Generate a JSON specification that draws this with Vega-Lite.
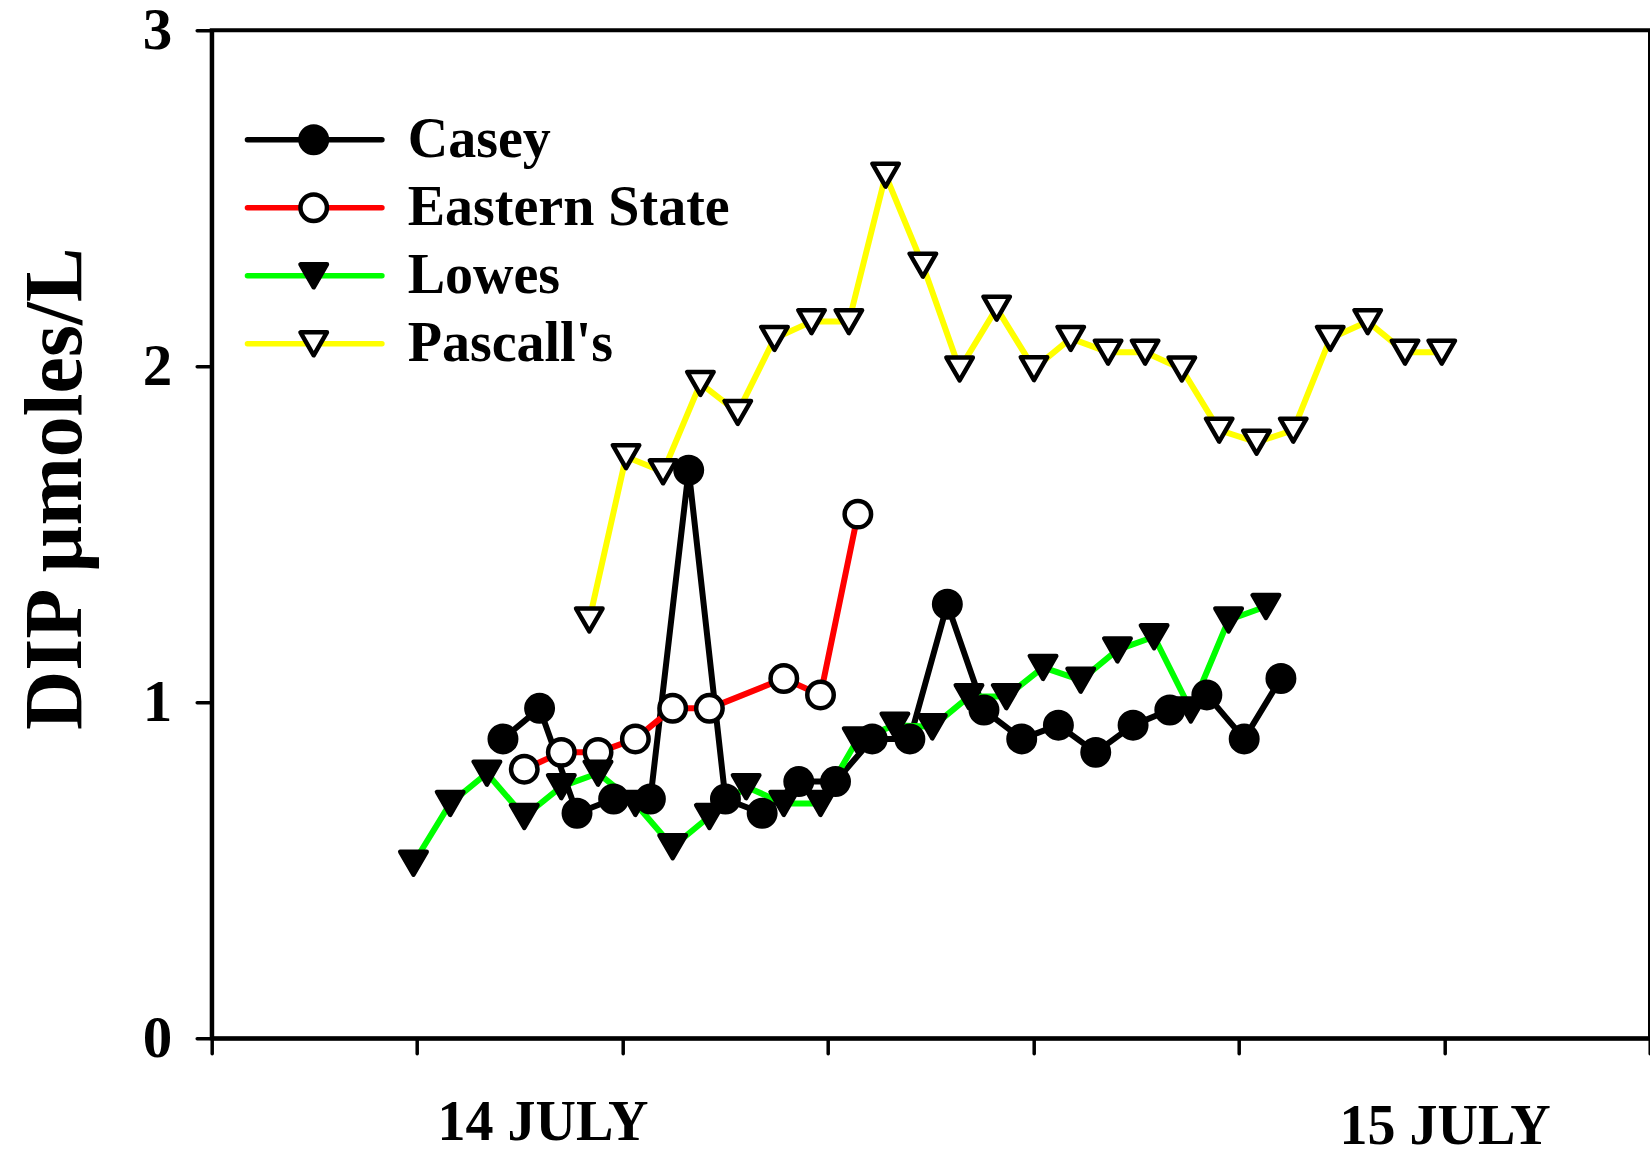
{
  "$schema": "https://vega.github.io/schema/vega-lite/v6.json",
  "width": 1438.3,
  "height": 1008,
  "autosize": {"type": "none"},
  "padding": {"left": 211.7, "top": 30.3, "right": 0, "bottom": 114.7},
  "background": "white",
  "config": {
    "view": {"stroke": "black", "strokeWidth": 4},
    "font": "Liberation Serif"
  },
  "data": {
    "values": [
      {"site": "Casey", "hours": 5.670, "dip": 0.891},
      {"site": "Casey", "hours": 6.383, "dip": 0.982},
      {"site": "Casey", "hours": 7.112, "dip": 0.670},
      {"site": "Casey", "hours": 7.825, "dip": 0.712},
      {"site": "Casey", "hours": 8.540, "dip": 0.712},
      {"site": "Casey", "hours": 9.286, "dip": 1.691},
      {"site": "Casey", "hours": 10.001, "dip": 0.712},
      {"site": "Casey", "hours": 10.716, "dip": 0.670},
      {"site": "Casey", "hours": 11.429, "dip": 0.764},
      {"site": "Casey", "hours": 12.144, "dip": 0.764},
      {"site": "Casey", "hours": 12.859, "dip": 0.891},
      {"site": "Casey", "hours": 13.592, "dip": 0.891},
      {"site": "Casey", "hours": 14.321, "dip": 1.292},
      {"site": "Casey", "hours": 15.034, "dip": 0.977},
      {"site": "Casey", "hours": 15.769, "dip": 0.891},
      {"site": "Casey", "hours": 16.483, "dip": 0.932},
      {"site": "Casey", "hours": 17.210, "dip": 0.851},
      {"site": "Casey", "hours": 17.937, "dip": 0.932},
      {"site": "Casey", "hours": 18.652, "dip": 0.977},
      {"site": "Casey", "hours": 19.373, "dip": 1.022},
      {"site": "Casey", "hours": 20.100, "dip": 0.891},
      {"site": "Casey", "hours": 20.815, "dip": 1.071},
      {"site": "Eastern State", "hours": 6.085, "dip": 0.801},
      {"site": "Eastern State", "hours": 6.806, "dip": 0.851},
      {"site": "Eastern State", "hours": 7.521, "dip": 0.851},
      {"site": "Eastern State", "hours": 8.248, "dip": 0.891},
      {"site": "Eastern State", "hours": 8.974, "dip": 0.982},
      {"site": "Eastern State", "hours": 9.689, "dip": 0.982},
      {"site": "Eastern State", "hours": 11.137, "dip": 1.071},
      {"site": "Eastern State", "hours": 11.852, "dip": 1.022},
      {"site": "Eastern State", "hours": 12.579, "dip": 1.560},
      {"site": "Lowes", "hours": 3.928, "dip": 0.521},
      {"site": "Lowes", "hours": 4.643, "dip": 0.699},
      {"site": "Lowes", "hours": 5.358, "dip": 0.789},
      {"site": "Lowes", "hours": 6.085, "dip": 0.660},
      {"site": "Lowes", "hours": 6.806, "dip": 0.749},
      {"site": "Lowes", "hours": 7.521, "dip": 0.789},
      {"site": "Lowes", "hours": 8.248, "dip": 0.699},
      {"site": "Lowes", "hours": 8.974, "dip": 0.570},
      {"site": "Lowes", "hours": 9.689, "dip": 0.660},
      {"site": "Lowes", "hours": 10.404, "dip": 0.749},
      {"site": "Lowes", "hours": 11.137, "dip": 0.699},
      {"site": "Lowes", "hours": 11.852, "dip": 0.699},
      {"site": "Lowes", "hours": 12.567, "dip": 0.888},
      {"site": "Lowes", "hours": 13.300, "dip": 0.932},
      {"site": "Lowes", "hours": 14.028, "dip": 0.927},
      {"site": "Lowes", "hours": 14.742, "dip": 1.017},
      {"site": "Lowes", "hours": 15.470, "dip": 1.017},
      {"site": "Lowes", "hours": 16.184, "dip": 1.104},
      {"site": "Lowes", "hours": 16.918, "dip": 1.066},
      {"site": "Lowes", "hours": 17.633, "dip": 1.156},
      {"site": "Lowes", "hours": 18.346, "dip": 1.195},
      {"site": "Lowes", "hours": 19.061, "dip": 0.977},
      {"site": "Lowes", "hours": 19.796, "dip": 1.245},
      {"site": "Lowes", "hours": 20.523, "dip": 1.285},
      {"site": "Pascall's", "hours": 7.351, "dip": 1.245},
      {"site": "Pascall's", "hours": 8.066, "dip": 1.731},
      {"site": "Pascall's", "hours": 8.787, "dip": 1.686},
      {"site": "Pascall's", "hours": 9.514, "dip": 1.949},
      {"site": "Pascall's", "hours": 10.241, "dip": 1.863},
      {"site": "Pascall's", "hours": 10.956, "dip": 2.083},
      {"site": "Pascall's", "hours": 11.677, "dip": 2.133},
      {"site": "Pascall's", "hours": 12.404, "dip": 2.133},
      {"site": "Pascall's", "hours": 13.119, "dip": 2.569},
      {"site": "Pascall's", "hours": 13.845, "dip": 2.301},
      {"site": "Pascall's", "hours": 14.560, "dip": 1.992},
      {"site": "Pascall's", "hours": 15.281, "dip": 2.173},
      {"site": "Pascall's", "hours": 16.008, "dip": 1.993},
      {"site": "Pascall's", "hours": 16.723, "dip": 2.083},
      {"site": "Pascall's", "hours": 17.450, "dip": 2.042},
      {"site": "Pascall's", "hours": 18.171, "dip": 2.042},
      {"site": "Pascall's", "hours": 18.886, "dip": 1.992},
      {"site": "Pascall's", "hours": 19.613, "dip": 1.810},
      {"site": "Pascall's", "hours": 20.341, "dip": 1.774},
      {"site": "Pascall's", "hours": 21.055, "dip": 1.810},
      {"site": "Pascall's", "hours": 21.775, "dip": 2.083},
      {"site": "Pascall's", "hours": 22.504, "dip": 2.133},
      {"site": "Pascall's", "hours": 23.231, "dip": 2.042},
      {"site": "Pascall's", "hours": 23.946, "dip": 2.042}
    ]
  },
  "encoding": {
    "x": {
      "field": "hours",
      "type": "quantitative",
      "scale": {"domain": [0, 28], "nice": false, "zero": false},
      "axis": {
        "values": [0, 4, 6.44, 8, 12, 16, 20, 24, 28],
        "title": null,
        "grid": false,
        "labelExpr": "datum.value > 6 && datum.value < 7 ? '14 JULY' : (datum.value == 24 ? '15 JULY' : '')",
        "labelFont": "Liberation Serif",
        "labelFontWeight": "bold",
        "labelFontSize": 56,
        "labelColor": "black",
        "labelFlush": false,
        "labelOverlap": false,
        "labelBound": false,
        "labelLimit": 0,
        "labelPadding": {"condition": {"test": "datum.value == 24", "value": 46}, "value": 42},
        "tickOpacity": {"condition": {"test": "datum.value > 6 && datum.value < 7", "value": 0}, "value": 1},
        "tickSize": 15,
        "tickWidth": 3.5,
        "tickColor": "black",
        "tickCap": "round",
        "domainColor": "black",
        "domainWidth": 4
      }
    },
    "y": {
      "field": "dip",
      "type": "quantitative",
      "scale": {"domain": [0, 3], "nice": false},
      "axis": {
        "values": [0, 1, 2, 3],
        "title": "DIP µmoles/L",
        "titleFont": "Liberation Serif",
        "titleFontWeight": "bold",
        "titleFontSize": 82,
        "titleColor": "black",
        "titleX": -131,
        "titleY": 458,
        "titleBaseline": "alphabetic",
        "titleAlign": "center",
        "titleAngle": -90,
        "grid": false,
        "labelFont": "Liberation Serif",
        "labelFontWeight": "bold",
        "labelFontSize": 59,
        "labelColor": "black",
        "labelPadding": 25,
        "tickSize": 15,
        "tickWidth": 3.5,
        "tickColor": "black",
        "tickCap": "round",
        "domainColor": "black",
        "domainWidth": 4
      }
    }
  },
  "layer": [
    {
      "mark": {"type": "line", "strokeWidth": 6, "strokeJoin": "round"},
      "encoding": {
        "stroke": {
          "field": "site",
          "type": "nominal",
          "scale": {
            "domain": ["Casey", "Eastern State", "Lowes", "Pascall's"],
            "range": ["#000000", "#ff0000", "#00ff00", "#ffff00"]
          },
          "legend": {
            "orient": "none",
            "legendX": 75,
            "legendY": 81.5,
            "title": null,
            "padding": 0,
            "symbolType": "M-5.4,0H5.4",
            "symbolSize": 620,
            "symbolStrokeWidth": 5.5,
            "labelFont": "Liberation Serif",
            "labelFontWeight": "bold",
            "labelFontSize": 56,
            "labelColor": "black",
            "labelOpacity": 0,
            "labelLimit": 0,
            "labelOffset": 67,
            "rowPadding": 12,
            "zindex": 0,
            "encode": {"symbols": {"update": {"strokeCap": {"value": "round"}}}}
          }
        }
      }
    },
    {
      "mark": {"type": "point", "filled": true, "stroke": "black", "strokeWidth": 4.5, "strokeJoin": "round", "opacity": 1, "size": 700},
      "encoding": {
        "shape": {
          "field": "site",
          "type": "nominal",
          "scale": {"range": ["circle", "circle", "triangle-down", "triangle-down"]},
          "legend": {
            "orient": "none",
            "legendX": 74,
            "legendY": 81.5,
            "title": null,
            "padding": 0,
            "symbolSize": 700,
            "symbolStrokeColor": "black",
            "symbolStrokeWidth": 4.5,
            "symbolOpacity": 1,
            "labelFont": "Liberation Serif",
            "labelFontWeight": "bold",
            "labelFontSize": 56,
            "labelColor": "black",
            "labelLimit": 0,
            "labelOffset": 66,
            "rowPadding": 12,
            "zindex": 1,
            "encode": {"symbols": {"update": {"stroke": {"value": "black"}, "strokeWidth": {"value": 4.5}, "strokeJoin": {"value": "round"}}}}
          }
        },
        "fill": {
          "field": "site",
          "type": "nominal",
          "scale": {"range": ["#000000", "#ffffff", "#000000", "#ffffff"]},
          "legend": {
            "orient": "none",
            "legendX": 74,
            "legendY": 81.5,
            "title": null,
            "padding": 0,
            "symbolSize": 700,
            "symbolStrokeColor": "black",
            "symbolStrokeWidth": 4.5,
            "symbolOpacity": 1,
            "labelFont": "Liberation Serif",
            "labelFontWeight": "bold",
            "labelFontSize": 56,
            "labelColor": "black",
            "labelLimit": 0,
            "labelOffset": 66,
            "rowPadding": 12,
            "zindex": 1,
            "encode": {"symbols": {"update": {"stroke": {"value": "black"}, "strokeWidth": {"value": 4.5}, "strokeJoin": {"value": "round"}}}}
          }
        }
      }
    }
  ]
}
